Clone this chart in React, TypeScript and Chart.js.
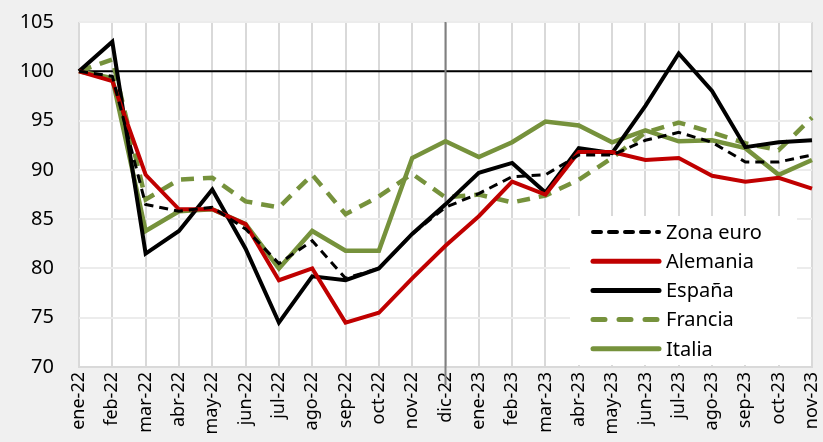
import React, { useEffect, useRef } from "react";
import { Chart, registerables } from "chart.js";

Chart.register(...registerables);

const categories = [
  "ene-22", "feb-22", "mar-22", "abr-22", "may-22", "jun-22", "jul-22", "ago-22", "sep-22", "oct-22", "nov-22", "dic-22",
  "ene-23", "feb-23", "mar-23", "abr-23", "may-23", "jun-23", "jul-23", "ago-23", "sep-23", "oct-23", "nov-23",
];

const zonaEuro = [100, 99.5, 86.5, 85.8, 86.2, 84, 80.5, 82.8, 79, 80, 83.5, 86.2, 87.6, 89.3, 89.5, 91.5, 91.5, 93, 93.8, 92.8, 90.8, 90.8, 91.5];
const alemania = [100, 99, 89.5, 86, 86, 84.5, 78.8, 80, 74.5, 75.5, 79, 82.3, 85.3, 88.8, 87.5, 91.8, 91.8, 91, 91.2, 89.4, 88.8, 89.2, 88.1];
const espana = [100, 103, 81.5, 83.8, 88, 82, 74.5, 79.2, 78.8, 80, 83.5, 86.5, 89.7, 90.7, 87.7, 92.2, 91.7, 96.5, 101.8, 98, 92.3, 92.8, 93];
const francia = [100, 101.2, 87, 89, 89.2, 86.8, 86.2, 89.5, 85.5, 87.3, 89.6, 87.2, 87.5, 86.7, 87.4, 89, 91.2, 93.8, 94.8, 93.8, 92.7, 92, 95.3];
const italia = [100, 99.3, 83.8, 85.8, 86, 84.5, 80, 83.8, 81.8, 81.8, 91.2, 92.9, 91.3, 92.8, 94.9, 94.5, 92.8, 94, 92.9, 93, 92.2, 89.5, 91];

const yMin = 70;
const yMax = 105;
const yStep = 5;
const refValue = 100;
const markerCategory = "dic-22";

const FONT = "'Noto Sans', 'Open Sans', sans-serif";

const plotBgPlugin = {
  id: "plotBg",
  beforeDraw(chart: any) {
    const { ctx, chartArea } = chart;
    ctx.save();
    ctx.fillStyle = "#ffffff";
    ctx.fillRect(chartArea.left, chartArea.top, chartArea.right - chartArea.left, chartArea.bottom - chartArea.top);
    ctx.restore();
  },
  beforeDatasetsDraw(chart: any) {
    const { ctx, chartArea, scales } = chart;
    const y = scales.y.getPixelForValue(refValue);
    const x = scales.x.getPixelForValue(categories.indexOf(markerCategory));
    ctx.save();
    ctx.strokeStyle = "#000000";
    ctx.lineWidth = 2;
    ctx.beginPath();
    ctx.moveTo(chartArea.left, y);
    ctx.lineTo(chartArea.right, y);
    ctx.stroke();
    ctx.strokeStyle = "#808080";
    ctx.lineWidth = 2;
    ctx.beginPath();
    ctx.moveTo(x, chartArea.top);
    ctx.lineTo(x, chartArea.bottom + 18);
    ctx.stroke();
    ctx.restore();
  },
  afterDraw(chart: any) {
    const { ctx } = chart;
    const boxL = 570, boxT = 216, boxR = 797, boxB = 365;
    ctx.save();
    ctx.fillStyle = "#ffffff";
    ctx.fillRect(boxL, boxT, boxR - boxL, boxB - boxT);
    const rowH = 29.2;
    chart.data.datasets.forEach((ds: any, i: number) => {
      const cy = 232 + i * rowH;
      ctx.strokeStyle = ds.borderColor;
      ctx.lineWidth = ds.legendWidth;
      ctx.lineCap = "round";
      ctx.setLineDash(ds.legendDash || []);
      ctx.beginPath();
      ctx.moveTo(593, cy);
      ctx.lineTo(659, cy);
      ctx.stroke();
      ctx.setLineDash([]);
      ctx.fillStyle = "#000000";
      ctx.font = `20px ${FONT}`;
      ctx.textBaseline = "middle";
      ctx.textAlign = "left";
      ctx.fillText(ds.label, 666, cy + 1);
    });
    ctx.restore();
  },
};

export default function App() {
  const canvasRef = useRef<HTMLCanvasElement | null>(null);

  useEffect(() => {
    document.body.style.margin = "0";
    const canvas = canvasRef.current;
    if (!canvas) return;
    const chart = new Chart(canvas, {
      type: "line",
      data: {
        labels: categories,
        datasets: [
          { label: "Zona euro", data: zonaEuro, borderColor: "#000000", borderWidth: 3, borderDash: [9, 6], legendWidth: 4, legendDash: [8, 8] } as any,
          { label: "Alemania", data: alemania, borderColor: "#c00000", borderWidth: 4, legendWidth: 5 } as any,
          { label: "España", data: espana, borderColor: "#000000", borderWidth: 4, legendWidth: 5 } as any,
          { label: "Francia", data: francia, borderColor: "#76923c", borderWidth: 4.5, borderDash: [13, 9], legendWidth: 5, legendDash: [12, 14] } as any,
          { label: "Italia", data: italia, borderColor: "#76923c", borderWidth: 4.5, legendWidth: 5 } as any,
        ],
      },
      options: {
        animation: false,
        responsive: false,
        maintainAspectRatio: false,
        layout: { padding: { top: 22, right: 11, left: 0, bottom: 0 } },
        elements: {
          point: { radius: 0, hoverRadius: 0 },
          line: { tension: 0, borderJoinStyle: "miter", borderCapStyle: "butt" },
        },
        plugins: {
          legend: { display: false },
          tooltip: { enabled: false },
        },
        scales: {
          x: {
            offset: false,
            grid: { color: "#d9d9d9", lineWidth: 2, drawTicks: false, offset: false },
            border: { display: true, color: "#d9d9d9", width: 2 },
            ticks: {
              autoSkip: false,
              minRotation: 90,
              maxRotation: 90,
              padding: 5,
              color: "#000000",
              font: { family: FONT, size: 18 },
            },
            afterFit(scale: any) {
              scale.height = 75;
              scale.paddingLeft = 0;
              scale.paddingRight = 0;
              scale.paddingTop = 0;
              scale.paddingBottom = 0;
            },
          },
          y: {
            min: yMin,
            max: yMax,
            grid: { color: "#ececec", lineWidth: 2, drawTicks: false },
            border: { display: false },
            ticks: {
              stepSize: yStep,
              padding: 25,
              color: "#000000",
              font: { family: FONT, size: 20 },
            },
            afterFit(scale: any) {
              scale.width = 79;
              scale.paddingLeft = 0;
              scale.paddingRight = 0;
              scale.paddingTop = 0;
              scale.paddingBottom = 0;
            },
          },
        },
      },
      plugins: [plotBgPlugin],
    });
    return () => chart.destroy();
  }, []);

  return (
    <div style={{ width: 823, height: 442, background: "#f0f0f0", overflow: "hidden" }}>
      <canvas ref={canvasRef} width={823} height={442} style={{ display: "block" }} />
    </div>
  );
}
